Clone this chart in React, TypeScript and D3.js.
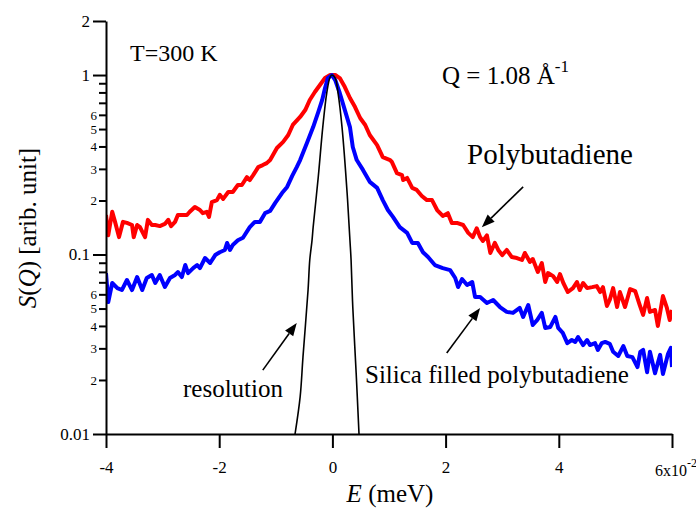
import React, { useEffect, useRef } from 'react';
import * as d3 from 'd3';

// energy transfer E in units of 1e-2 meV, S(Q) normalised to the peak
const polyE = [-4.0, -3.96, -3.89, -3.84, -3.77, -3.7, -3.63, -3.54, -3.51, -3.45, -3.4, -3.36, -3.31, -3.26, -3.19, -3.13, -3.05, -2.96, -2.9, -2.85, -2.78, -2.73, -2.57, -2.52, -2.43, -2.34, -2.29, -2.22, -2.18, -2.13, -2.04, -1.99, -1.93, -1.84, -1.76, -1.67, -1.6, -1.51, -1.46, -1.4, -1.31, -1.23, -1.16, -1.1, -0.98, -0.87, -0.78, -0.7, -0.57, -0.48, -0.4, -0.31, -0.22, -0.13, -0.04, 0.05, 0.13, 0.22, 0.31, 0.4, 0.49, 0.58, 0.66, 0.79, 0.89, 1.02, 1.05, 1.14, 1.23, 1.25, 1.32, 1.41, 1.49, 1.58, 1.67, 1.76, 1.85, 1.95, 2.04, 2.11, 2.2, 2.31, 2.4, 2.48, 2.55, 2.61, 2.66, 2.73, 2.79, 2.87, 2.93, 3.0, 3.08, 3.17, 3.26, 3.35, 3.4, 3.49, 3.54, 3.63, 3.7, 3.76, 3.81, 3.9, 3.97, 4.02, 4.08, 4.16, 4.25, 4.32, 4.37, 4.43, 4.5, 4.59, 4.67, 4.73, 4.78, 4.85, 4.9, 4.96, 5.03, 5.08, 5.17, 5.26, 5.35, 5.43, 5.49, 5.56, 5.61, 5.7, 5.75, 5.84, 5.91, 5.96, 6.0];
const polyS = [0.166, 0.128, 0.173, 0.152, 0.125, 0.152, 0.15, 0.146, 0.125, 0.146, 0.142, 0.134, 0.125, 0.156, 0.146, 0.146, 0.144, 0.148, 0.156, 0.144, 0.152, 0.166, 0.166, 0.173, 0.184, 0.177, 0.17, 0.173, 0.162, 0.196, 0.201, 0.215, 0.204, 0.223, 0.223, 0.244, 0.244, 0.27, 0.26, 0.277, 0.307, 0.315, 0.323, 0.336, 0.392, 0.424, 0.463, 0.527, 0.584, 0.638, 0.726, 0.804, 0.88, 0.962, 1.0, 1.0, 0.962, 0.857, 0.745, 0.663, 0.576, 0.527, 0.463, 0.407, 0.349, 0.336, 0.328, 0.284, 0.277, 0.26, 0.267, 0.235, 0.229, 0.212, 0.201, 0.201, 0.177, 0.164, 0.17, 0.15, 0.15, 0.146, 0.132, 0.125, 0.14, 0.125, 0.119, 0.128, 0.102, 0.116, 0.106, 0.0993, 0.106, 0.0968, 0.0956, 0.0932, 0.102, 0.0909, 0.0944, 0.0799, 0.0897, 0.0703, 0.0788, 0.0758, 0.0703, 0.0778, 0.0694, 0.0618, 0.065, 0.0703, 0.0634, 0.0694, 0.065, 0.0658, 0.0667, 0.0618, 0.0658, 0.0517, 0.0558, 0.065, 0.051, 0.0618, 0.051, 0.0642, 0.0626, 0.0523, 0.0461, 0.0572, 0.0479, 0.0491, 0.04, 0.0587, 0.0504, 0.0432, 0.0491];

const silicaE = [-4.0, -3.96, -3.89, -3.8, -3.72, -3.63, -3.54, -3.45, -3.36, -3.28, -3.19, -3.13, -3.05, -2.96, -2.87, -2.78, -2.73, -2.66, -2.6, -2.55, -2.46, -2.39, -2.34, -2.25, -2.16, -2.07, -1.99, -1.9, -1.86, -1.81, -1.76, -1.67, -1.58, -1.46, -1.37, -1.28, -1.19, -1.1, -1.01, -0.89, -0.8, -0.71, -0.63, -0.57, -0.45, -0.34, -0.25, -0.18, -0.13, -0.08, -0.01, 0.05, 0.13, 0.22, 0.31, 0.36, 0.43, 0.54, 0.66, 0.79, 0.89, 0.98, 1.07, 1.19, 1.32, 1.41, 1.51, 1.6, 1.69, 1.81, 1.95, 2.08, 2.17, 2.22, 2.29, 2.38, 2.47, 2.52, 2.61, 2.73, 2.84, 2.96, 3.08, 3.19, 3.31, 3.37, 3.46, 3.54, 3.62, 3.7, 3.76, 3.85, 3.94, 3.99, 4.07, 4.15, 4.23, 4.29, 4.34, 4.43, 4.5, 4.55, 4.64, 4.69, 4.76, 4.82, 4.9, 4.96, 5.05, 5.14, 5.21, 5.3, 5.39, 5.44, 5.49, 5.56, 5.61, 5.7, 5.79, 5.84, 5.93, 5.98, 6.0];
const silicaS = [0.0788, 0.0544, 0.0694, 0.065, 0.0634, 0.0721, 0.0634, 0.0749, 0.0634, 0.074, 0.0769, 0.0694, 0.0769, 0.0659, 0.074, 0.0769, 0.0799, 0.0749, 0.0874, 0.0788, 0.084, 0.0874, 0.084, 0.0956, 0.0897, 0.0993, 0.103, 0.106, 0.116, 0.106, 0.113, 0.12, 0.124, 0.142, 0.152, 0.152, 0.17, 0.175, 0.194, 0.22, 0.238, 0.274, 0.307, 0.336, 0.418, 0.513, 0.622, 0.726, 0.846, 0.962, 1.0, 0.938, 0.794, 0.638, 0.513, 0.397, 0.336, 0.296, 0.254, 0.235, 0.201, 0.177, 0.162, 0.142, 0.132, 0.116, 0.116, 0.103, 0.0968, 0.0874, 0.084, 0.0819, 0.074, 0.0659, 0.073, 0.0676, 0.0703, 0.058, 0.058, 0.0537, 0.0558, 0.051, 0.0479, 0.0473, 0.0504, 0.0449, 0.0523, 0.0405, 0.0432, 0.0473, 0.039, 0.0395, 0.0449, 0.039, 0.0366, 0.0321, 0.0334, 0.0326, 0.0347, 0.0313, 0.0334, 0.0313, 0.0321, 0.0294, 0.0321, 0.0326, 0.0318, 0.0287, 0.0272, 0.0309, 0.0272, 0.0268, 0.0236, 0.0287, 0.0294, 0.0221, 0.0287, 0.0218, 0.0276, 0.0216, 0.028, 0.0302, 0.0236];

const resE = [-0.66, -0.57, -0.52, -0.43, -0.4, -0.36, -0.34, -0.25, -0.17, -0.1, -0.04, -0.01, 0.05, 0.1, 0.17, 0.26, 0.31, 0.33, 0.36, 0.42, 0.47];
const resS = [0.01, 0.0161, 0.0268, 0.0634, 0.0932, 0.12, 0.142, 0.27, 0.513, 0.794, 0.975, 1.0, 0.962, 0.794, 0.513, 0.22, 0.12, 0.0932, 0.051, 0.0218, 0.01];

const xTicks = [-4, -2, 0, 2, 4, 6];
const xTickLabels = ['-4', '-2', '0', '2', '4', ''];
const yMajor = [0.01, 0.1, 1, 2];
const yMajorLabels = ['0.01', '0.1', '1', '2'];
const yMinor = [0.02, 0.03, 0.04, 0.05, 0.06, 0.07, 0.08, 0.09, 0.2, 0.3, 0.4, 0.5, 0.6, 0.7, 0.8, 0.9];
const yMinorLabels = ['2', '3', '4', '5', '6', '', '', '', '2', '3', '4', '5', '6', '', '', ''];

// arrows: [fromE, fromS, toE, toS]
const arrows = [
  [3.37, 0.238, 2.64, 0.142],
  [2.02, 0.0283, 2.61, 0.0504],
  [-1.23, 0.0227, -0.63, 0.0416],
];

const FONT = '"Liberation Serif", "Times New Roman", serif';

const App = () => {
  const ref = useRef<SVGSVGElement>(null);

  useEffect(() => {
    const svg = d3.select(ref.current);
    svg.selectAll('*').remove();

    const x = d3.scaleLinear().domain([-4, 6]).range([106, 672]);
    const y = d3.scaleLog().domain([0.01, 2]).range([434, 21]);

    svg.append('defs').append('clipPath').attr('id', 'plot')
      .append('rect').attr('x', 106).attr('y', 21).attr('width', 566).attr('height', 413);

    const line = d3.line<[number, number]>().x(d => x(d[0])).y(d => y(d[1]));
    const smooth = d3.line<[number, number]>().x(d => x(d[0])).y(d => y(d[1])).curve(d3.curveCatmullRom);

    const g = svg.append('g').attr('clip-path', 'url(#plot)');
    g.append('path')
      .attr('d', line(polyE.map((e, i) => [e, polyS[i]])))
      .attr('fill', 'none').attr('stroke', '#ff0000').attr('stroke-width', 4)
      .attr('stroke-linejoin', 'round');
    g.append('path')
      .attr('d', line(silicaE.map((e, i) => [e, silicaS[i]])))
      .attr('fill', 'none').attr('stroke', '#0000ff').attr('stroke-width', 4)
      .attr('stroke-linejoin', 'round');
    g.append('path')
      .attr('d', smooth(resE.map((e, i) => [e, resS[i]])))
      .attr('fill', 'none').attr('stroke', '#000').attr('stroke-width', 1.6);

    // x axis
    const xa = svg.append('g').attr('transform', 'translate(0,434)')
      .call(d3.axisBottom(x).tickValues(xTicks).tickSize(14).tickSizeOuter(0)
        .tickFormat((d, i) => xTickLabels[i]));
    xa.select('.domain').attr('stroke-width', 2);
    xa.selectAll('line').attr('stroke-width', 2);
    xa.selectAll('text').attr('font-family', FONT).attr('font-size', 17).attr('dy', '1.3em');

    const sixLbl = svg.append('text').attr('x', x(6) - 17).attr('y', 476)
      .attr('font-family', FONT).attr('font-size', 16);
    sixLbl.append('tspan').text('6x10');
    sixLbl.append('tspan').attr('dy', -9).attr('font-size', 12).text('-2');

    // y axis
    const ya = svg.append('g').attr('transform', 'translate(106,0)')
      .call(d3.axisLeft(y).tickValues(yMajor).tickSize(13).tickSizeOuter(0)
        .tickFormat((d, i) => yMajorLabels[i]));
    ya.select('.domain').attr('stroke-width', 2);
    ya.selectAll('line').attr('stroke-width', 2);
    ya.selectAll('text').attr('font-family', FONT).attr('font-size', 17).attr('x', -16);

    const ym = svg.append('g').attr('transform', 'translate(106,0)')
      .call(d3.axisLeft(y).tickValues(yMinor).tickSize(7).tickSizeOuter(0)
        .tickFormat((d, i) => yMinorLabels[i]));
    ym.select('.domain').remove();
    ym.selectAll('line').attr('stroke-width', 2);
    ym.selectAll('text').attr('font-family', FONT).attr('font-size', 13).attr('x', -9);

    // arrows
    arrows.forEach(([e0, s0, e1, s1]) => {
      const x0 = x(e0), y0 = y(s0), x1 = x(e1), y1 = y(s1);
      const ang = Math.atan2(y1 - y0, x1 - x0);
      const len = 13, hw = 5;
      const bx = x1 - len * Math.cos(ang), by = y1 - len * Math.sin(ang);
      svg.append('line').attr('x1', x0).attr('y1', y0).attr('x2', bx).attr('y2', by)
        .attr('stroke', '#000').attr('stroke-width', 1.6);
      const pts = [
        [x1, y1],
        [bx + hw * Math.sin(ang), by - hw * Math.cos(ang)],
        [bx - hw * Math.sin(ang), by + hw * Math.cos(ang)],
      ];
      svg.append('polygon').attr('points', pts.map(p => p.join(',')).join(' ')).attr('fill', '#000');
    });

    const txt = (tx: number, ty: number, s: string, size: number) =>
      svg.append('text').attr('x', tx).attr('y', ty).attr('font-family', FONT)
        .attr('font-size', size).attr('fill', '#000').text(s);

    txt(130, 61, 'T=300 K', 24);
    const q = txt(442, 84, 'Q = 1.08 Å', 25);
    q.append('tspan').attr('dy', -12).attr('font-size', 17).text('-1');
    txt(467, 164, 'Polybutadiene', 29);
    txt(365, 383, 'Silica filled polybutadiene', 25);
    txt(183, 397, 'resolution', 25);

    // axis titles
    const xl = svg.append('text').attr('x', 390).attr('y', 502).attr('text-anchor', 'middle')
      .attr('font-family', FONT).attr('font-size', 25);
    xl.append('tspan').attr('font-style', 'italic').text('E');
    xl.append('tspan').text(' (meV)');

    const yl = svg.append('text').attr('transform', 'translate(36,228) rotate(-90)')
      .attr('text-anchor', 'middle').attr('font-family', FONT).attr('font-size', 25);
    yl.append('tspan').attr('font-style', 'italic').text('S');
    yl.append('tspan').text('(');
    yl.append('tspan').attr('font-style', 'italic').text('Q');
    yl.append('tspan').text(') [arib. unit]');
  }, []);

  return (
    <svg ref={ref} width={696} height={508}
      style={{ position: 'absolute', left: 0, top: 0, background: '#fff' }} />
  );
};

export default App;
